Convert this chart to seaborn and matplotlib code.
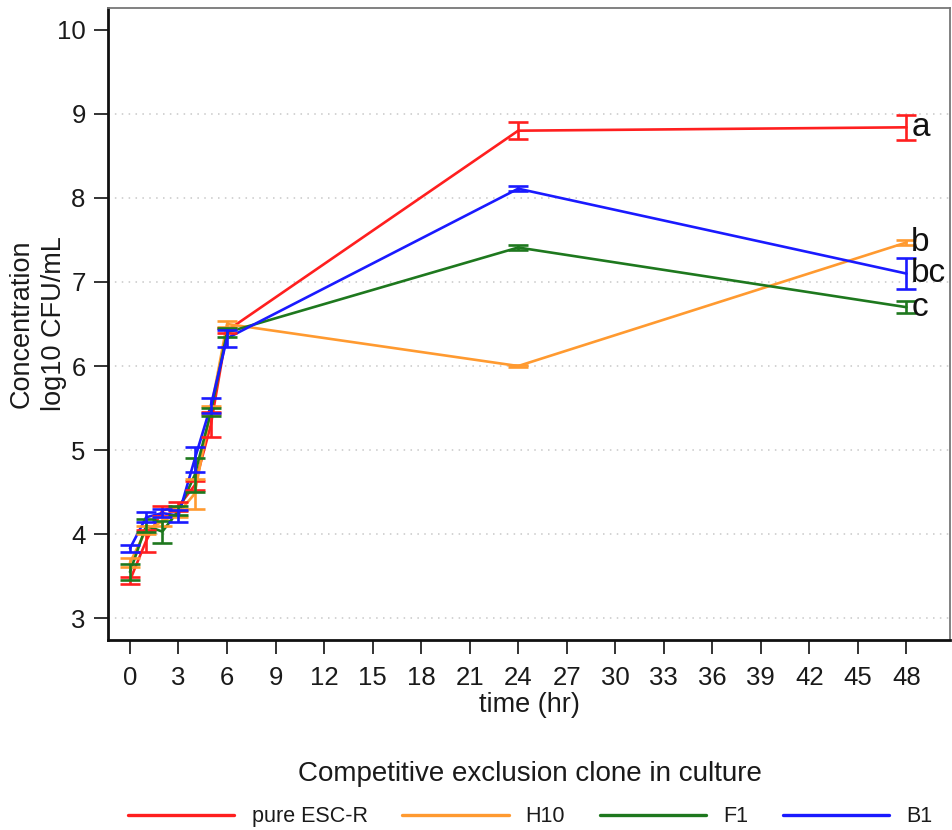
import matplotlib
matplotlib.use("Agg")
import matplotlib.pyplot as plt
import numpy as np
import pandas as pd
import seaborn as sns

# Sampling times (hours)
time_hr = [0, 1, 2, 3, 4, 5, 6, 24, 48]

# Mean concentration (log10 CFU/mL) and standard error per culture
pure_esc_r = [3.45, 3.92, 4.28, 4.33, 4.58, 5.30, 6.42, 8.80, 8.84]
pure_esc_r_err = [0.04, 0.13, 0.06, 0.05, 0.05, 0.15, 0.03, 0.10, 0.15]
h10 = [3.66, 4.05, 4.15, 4.25, 4.48, 5.48, 6.50, 6.00, 7.47]
h10_err = [0.05, 0.05, 0.05, 0.05, 0.18, 0.05, 0.03, 0.01, 0.03]
f1 = [3.55, 4.10, 4.03, 4.28, 4.70, 5.45, 6.40, 7.41, 6.70]
f1_err = [0.10, 0.08, 0.13, 0.05, 0.20, 0.05, 0.05, 0.03, 0.07]
b1 = [3.83, 4.20, 4.25, 4.22, 4.89, 5.53, 6.33, 8.11, 7.10]
b1_err = [0.04, 0.06, 0.05, 0.07, 0.15, 0.09, 0.10, 0.03, 0.18]

clones = ["pure ESC-R", "H10", "F1", "B1"]
colors = ["#ff1f1f", "#ff9a30", "#1e781e", "#1a1aff"]
letters = ["a", "b", "c", "bc"]

x_ticks = list(range(0, 49, 3))
y_ticks = list(range(3, 11))

means = [pure_esc_r, h10, f1, b1]
errs = [pure_esc_r_err, h10_err, f1_err, b1_err]

df = pd.concat(
    [pd.DataFrame({"time": time_hr, "conc": m, "err": e, "clone": c})
     for c, m, e in zip(clones, means, errs)],
    ignore_index=True,
)

sns.set_theme(style="white")
plt.rcParams["font.family"] = ["Liberation Sans", "DejaVu Sans"]

fig = plt.figure(figsize=(9.52, 8.30), dpi=100)
ax = fig.add_axes([0.1134, 0.2289, 0.8846, 0.7615])

sns.lineplot(data=df, x="time", y="conc", hue="clone", hue_order=clones,
             palette=colors, linewidth=1.9, ax=ax, legend=True, errorbar=None)

for clone, col in zip(clones, colors):
    sub = df[df["clone"] == clone]
    ax.errorbar(sub["time"], sub["conc"], yerr=sub["err"], fmt="none",
                ecolor=col, elinewidth=1.9, capsize=7.5, capthick=1.9, zorder=3)

# Significance letters at the final time point
for clone, letter in zip(clones, letters):
    sub = df[df["clone"] == clone]
    ax.text(sub["time"].iloc[-1] + 0.3, sub["conc"].iloc[-1], letter,
            fontsize=24, color="#111111", ha="left", va="center")

ax.set_xlim(-1.36, 50.7)
ax.set_ylim(2.74, 10.26)
ax.set_xticks(x_ticks)
ax.set_yticks(y_ticks)
ax.tick_params(axis="both", direction="out", length=10, width=1.4,
               color="#333333", labelsize=18.5, labelcolor="#1a1a1a",
               bottom=True, left=True)
ax.tick_params(axis="x", pad=9)
ax.tick_params(axis="y", pad=6)

for h in y_ticks[:-1]:
    ax.axhline(h, color="#c8c8c8", linestyle=(0, (1, 3.5)), linewidth=1.1, zorder=0)

for side in ["left", "bottom"]:
    ax.spines[side].set_color("#111111")
    ax.spines[side].set_linewidth(2.0)
for side in ["top", "right"]:
    ax.spines[side].set_color("#777777")
    ax.spines[side].set_linewidth(1.3)

ax.set_xlabel("time (hr)", fontsize=19.5, color="#1a1a1a", labelpad=1)
ax.set_ylabel("Concentration\nlog10 CFU/mL", fontsize=19.5, color="#1a1a1a",
              linespacing=1.3, labelpad=-7)

handles, labels = ax.get_legend_handles_labels()
ax.get_legend().remove()
leg = fig.legend(handles, labels, loc="center", bbox_to_anchor=(0.557, 0.043),
                 ncol=4, frameon=False, title="Competitive exclusion clone in culture",
                 prop={"size": 15.5}, handlelength=4.95,
                 handletextpad=0.8, columnspacing=1.6, labelspacing=0.9)
leg.get_title().set_fontsize(20)
leg.get_title().set_color("#1a1a1a")
for t in leg.get_texts():
    t.set_color("#1a1a1a")
for line in leg.get_lines():
    line.set_linewidth(2.4)

fig.savefig("out.png", dpi=100)
